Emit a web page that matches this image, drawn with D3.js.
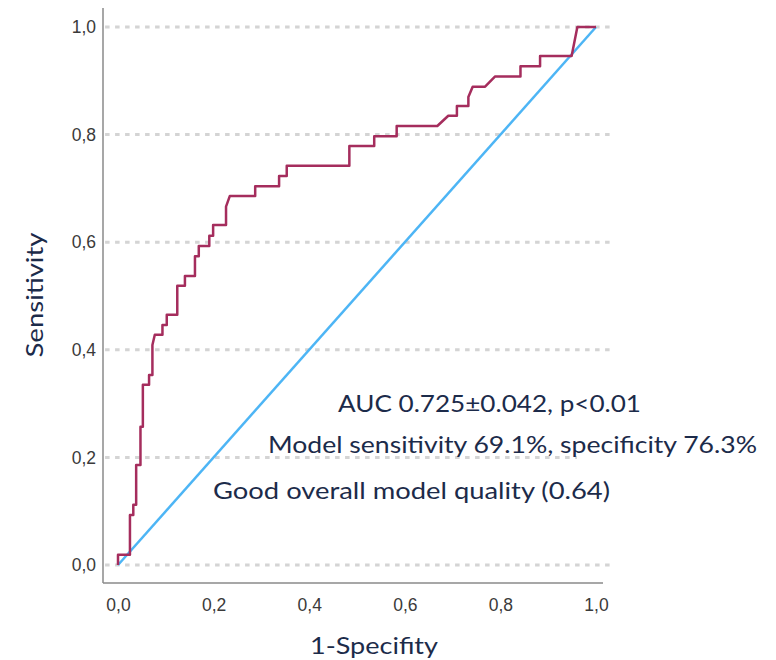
<!DOCTYPE html>
<html>
<head>
<meta charset="utf-8">
<script src="https://cdn.jsdelivr.net/npm/d3@7"></script>
<style>
  html, body { margin: 0; padding: 0; background: #ffffff; }
  svg { display: block; }
</style>
</head>
<body>
<svg id="chart" width="776" height="660"></svg>
<script>
// ROC curve vertices (1 - specificity, sensitivity)
const fprValues = [0, 0, 0.025, 0.025, 0.032, 0.032, 0.038, 0.038, 0.047, 0.047, 0.052, 0.052,
  0.065, 0.065, 0.072, 0.072, 0.077, 0.093, 0.093, 0.102, 0.102, 0.124, 0.124, 0.140, 0.140,
  0.161, 0.161, 0.169, 0.169, 0.191, 0.191, 0.199, 0.199, 0.226, 0.226, 0.234, 0.287, 0.287,
  0.337, 0.337, 0.353, 0.353, 0.484, 0.484, 0.536, 0.536, 0.583, 0.583, 0.668, 0.691, 0.709,
  0.709, 0.733, 0.733, 0.742, 0.768, 0.789, 0.842, 0.842, 0.883, 0.883, 0.949, 0.961, 1.0];
const tprValues = [0, 0.019, 0.019, 0.093, 0.093, 0.112, 0.112, 0.186, 0.186, 0.257, 0.257, 0.335,
  0.335, 0.353, 0.353, 0.409, 0.428, 0.428, 0.446, 0.446, 0.465, 0.465, 0.519, 0.519, 0.537,
  0.537, 0.574, 0.574, 0.593, 0.593, 0.612, 0.612, 0.632, 0.632, 0.666, 0.686, 0.686, 0.704,
  0.704, 0.723, 0.723, 0.742, 0.742, 0.779, 0.779, 0.797, 0.797, 0.816, 0.816, 0.835, 0.835,
  0.853, 0.853, 0.870, 0.889, 0.889, 0.908, 0.908, 0.927, 0.927, 0.946, 0.946, 1.0, 1.0];
// Reference diagonal
const refFpr = [0, 1];
const refTpr = [0, 1];
// Ticks
const xTicks = [0, 0.2, 0.4, 0.6, 0.8, 1.0];
const yTicks = [0, 0.2, 0.4, 0.6, 0.8, 1.0];
// Texts
const xTitle = "1-Specifity";
const yTitle = "Sensitivity";
const notes = [
  "AUC 0.725\u00b10.042, p<0.01",
  "Model sensitivity 69.1%, specificity 76.3%",
  "Good overall model quality (0.64)"
];

const svg = d3.select("#chart");
const x = d3.scaleLinear().domain([0, 1]).range([118, 596]);
const y = d3.scaleLinear().domain([0, 1]).range([565, 27]);
const fmt = d => d3.format(".1f")(d).replace(".", ",");

const axisColor = "#8a8a8a";
const textFont = "Lato, 'Open Sans', sans-serif";
const navy = "#1c2b4a";

// gridlines
svg.append("g").selectAll("line").data(yTicks).join("line")
  .attr("x1", x(-0.027)).attr("x2", x(1.029))
  .attr("y1", d => y(d)).attr("y2", d => y(d))
  .attr("stroke", "#d4d4d4").attr("stroke-width", 3)
  .attr("stroke-dasharray", "4.5,5.5");

// axes frame lines
svg.append("line").attr("x1", 103).attr("x2", 103).attr("y1", 8).attr("y2", 583)
  .attr("stroke", axisColor).attr("stroke-width", 1.5);
svg.append("line").attr("x1", 103).attr("x2", 603).attr("y1", 583).attr("y2", 583)
  .attr("stroke", axisColor).attr("stroke-width", 1.5);

// tick labels via d3 axes
const gx = svg.append("g").attr("transform", "translate(0,583)")
  .call(d3.axisBottom(x).tickValues(xTicks).tickFormat(fmt).tickSize(0).tickPadding(16));
const gy = svg.append("g").attr("transform", "translate(103,0)")
  .call(d3.axisLeft(y).tickValues(yTicks).tickFormat(fmt).tickSize(0).tickPadding(7));
[gx, gy].forEach(g => {
  g.select(".domain").remove();
  g.selectAll("text").attr("font-family", "'Liberation Sans', Arial, sans-serif")
    .attr("font-size", 17.5).attr("fill", "#3a3a3a");
});

// diagonal reference line
const line = d3.line().x(d => x(d[0])).y(d => y(d[1]));
svg.append("path").datum(d3.zip(refFpr, refTpr)).attr("d", line)
  .attr("fill", "none").attr("stroke", "#4db5f5").attr("stroke-width", 2.5);

// ROC curve
svg.append("path").datum(d3.zip(fprValues, tprValues)).attr("d", line)
  .attr("fill", "none").attr("stroke", "#a52d5d").attr("stroke-width", 2.5)
  .attr("stroke-linejoin", "round");

// axis titles
svg.append("text").attr("x", 374).attr("y", 654).attr("text-anchor", "middle")
  .attr("font-family", textFont).attr("font-size", 23).attr("fill", navy)
  .attr("textLength", 128).attr("lengthAdjust", "spacingAndGlyphs").text(xTitle);
svg.append("text").attr("transform", "translate(43,295) rotate(-90)").attr("text-anchor", "middle")
  .attr("font-family", textFont).attr("font-size", 23).attr("fill", navy)
  .attr("textLength", 125).attr("lengthAdjust", "spacingAndGlyphs").text(yTitle);

// annotation
svg.append("rect").attr("x", 577).attr("y", 446).attr("width", 190).attr("height", 22).attr("fill", "#fff");
const notePos = [[338, 412, 303], [268, 453, 489], [213, 499, 397]];
svg.append("g").selectAll("text").data(notes).join("text")
  .attr("x", (d, i) => notePos[i][0]).attr("y", (d, i) => notePos[i][1])
  .attr("textLength", (d, i) => notePos[i][2]).attr("lengthAdjust", "spacingAndGlyphs")
  .attr("font-family", textFont).attr("font-size", 24).attr("fill", navy)
  .text(d => d);
</script>
</body>
</html>
